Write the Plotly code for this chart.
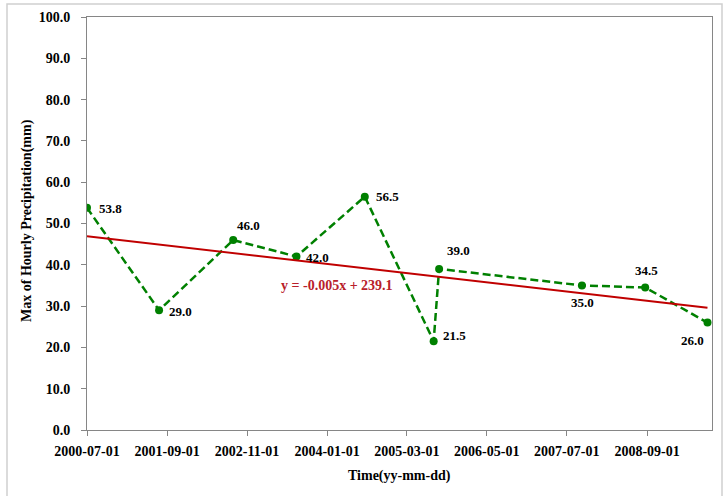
import numpy as np
import pandas as pd
import plotly.graph_objects as go

# Annual maximum of hourly precipitation
event_dates = ["2000-07-01", "2001-07-20", "2002-08-19", "2003-07-22", "2004-07-20",
               "2005-07-22", "2005-08-20", "2007-09-20", "2008-08-22", "2009-07-20"]
max_precip = [53.8, 29.0, 46.0, 42.0, 56.5, 21.5, 39.0, 35.0, 34.5, 26.0]

tick_dates = ["2000-07-01", "2001-09-01", "2002-11-01", "2004-01-01",
              "2005-03-01", "2006-05-01", "2007-07-01", "2008-09-01"]
trend_label = "y = -0.005x + 239.1"

FONT = "Liberation Serif"
GREEN = "#008000"
RED = "#C00000"

dates = pd.to_datetime(event_dates)
# linear trend fitted on spreadsheet-style serial day numbers
serial = (dates - pd.Timestamp("1899-12-30")).days.values.astype(float)
slope, intercept = np.polyfit(serial, np.array(max_precip), 1)
trend_x = [dates.min(), dates.max()]
trend_s = np.array([serial.min(), serial.max()])
trend_y = slope * trend_s + intercept

fig = go.Figure()

fig.add_trace(go.Scatter(
    x=dates, y=max_precip, mode="lines+markers",
    line=dict(color=GREEN, width=2.5, dash="8px,4px"),
    marker=dict(color=GREEN, size=8),
    showlegend=False, hoverinfo="x+y",
))

fig.add_trace(go.Scatter(
    x=trend_x, y=trend_y, mode="lines",
    line=dict(color=RED, width=2),
    showlegend=False, hoverinfo="skip",
))

# value labels: (xanchor, yanchor, xshift, yshift)
label_pos = [
    ("left", "middle", 10, -1),
    ("left", "middle", 8, -1),
    ("left", "bottom", 2, 5),
    ("left", "middle", 8, -1),
    ("left", "middle", 9, 0),
    ("left", "middle", 7, 6),
    ("left", "bottom", 6, 9),
    ("center", "top", 1, -8),
    ("center", "bottom", 1, 8),
    ("center", "top", -15, -8),
]
annotations = []
for d, v, (xa, ya, xs, ys) in zip(dates, max_precip, label_pos):
    annotations.append(dict(
        x=d, y=v, xref="x", yref="y", text=f"<b>{v:.1f}</b>",
        showarrow=False, xanchor=xa, yanchor=ya, xshift=xs, yshift=ys,
        font=dict(family=FONT, size=13, color="black"),
    ))

# trend equation
annotations.append(dict(
    x=(336.7 - 87) / 625, y=(430 - 285) / 413, xref="paper", yref="paper",
    text=f"<b>{trend_label}</b>", showarrow=False, xanchor="center", yanchor="middle",
    font=dict(family=FONT, size=14, color="#B8202A"),
))

# axis titles
annotations.append(dict(
    x=0.5, y=(430 - 476) / 413, xref="paper", yref="paper",
    text="<b>Time(yy-mm-dd)</b>", showarrow=False, xanchor="center", yanchor="middle",
    font=dict(family=FONT, size=14, color="black"),
))
annotations.append(dict(
    x=(27 - 87) / 625, y=(430 - 221) / 413, xref="paper", yref="paper",
    text="<b>Max of Hourly Precipitation(mm)</b>", showarrow=False, textangle=-90,
    xanchor="center", yanchor="middle",
    font=dict(family=FONT, size=14, color="black"),
))

x_start = pd.Timestamp("2000-07-01")
x_end = x_start + pd.Timedelta(days=3330)

fig.update_layout(
    width=723, height=496,
    margin=dict(l=87, r=11, t=17, b=66),
    paper_bgcolor="white", plot_bgcolor="white",
    annotations=annotations,
    shapes=[dict(
        type="rect", xref="paper", yref="paper",
        x0=(7 - 87) / 625, x1=(722 - 87) / 625,
        y0=(430 - 520) / 413, y1=(430 - 4) / 413,
        line=dict(color="#D0D0D0", width=1.5), fillcolor="rgba(0,0,0,0)", layer="below",
    )],
)

fig.update_xaxes(
    type="date", range=[x_start, x_end],
    tickvals=pd.to_datetime(tick_dates), ticktext=tick_dates,
    ticks="outside", ticklen=5, tickcolor="#868686", ticklabelstandoff=3,
    showline=True, linecolor="#868686", linewidth=1, mirror=True,
    showgrid=False, zeroline=False,
    tickfont=dict(family=FONT, size=14, color="black", weight="bold"),
)
fig.update_yaxes(
    range=[0, 100], dtick=10, tickformat=".1f",
    ticks="outside", ticklen=5, tickcolor="#868686", ticklabelstandoff=8,
    showline=True, linecolor="#868686", linewidth=1, mirror=True,
    showgrid=False, zeroline=False,
    tickfont=dict(family=FONT, size=14, color="black", weight="bold"),
)

fig.write_html("out.html")
